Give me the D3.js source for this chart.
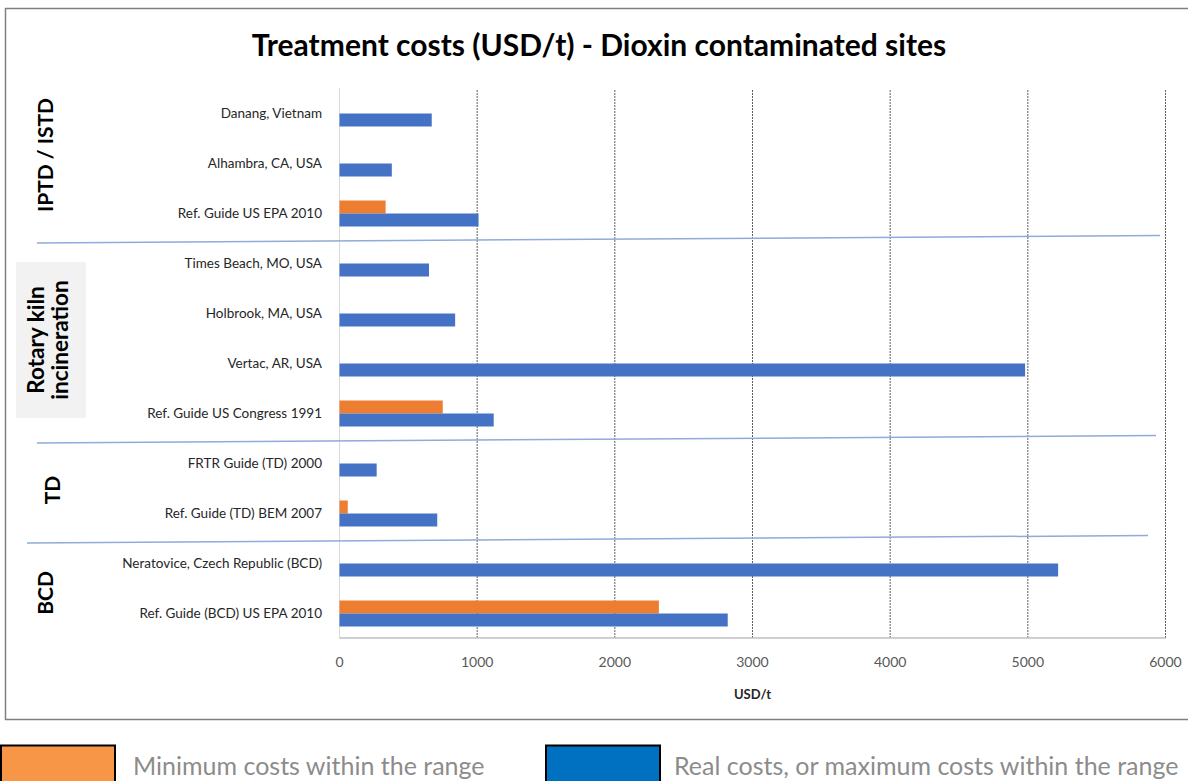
<!DOCTYPE html>
<html><head><meta charset="utf-8">
<script src="https://cdn.jsdelivr.net/npm/d3@7"></script>
<style>
html,body{margin:0;padding:0;background:#fff;}
svg{display:block;}
</style></head>
<body>
<svg id="chart" width="1188" height="781"></svg>
<script>
const categories = [
  "Danang, Vietnam",
  "Alhambra, CA, USA",
  "Ref. Guide US EPA 2010",
  "Times Beach, MO, USA",
  "Holbrook, MA, USA",
  "Vertac, AR, USA",
  "Ref. Guide US Congress 1991",
  "FRTR Guide (TD) 2000",
  "Ref. Guide (TD) BEM 2007",
  "Neratovice, Czech Republic (BCD)",
  "Ref. Guide (BCD) US EPA 2010"
];
const minCosts = [0, 0, 335, 0, 0, 0, 750, 0, 60, 0, 2320];
const maxCosts = [670, 380, 1010, 650, 840, 4980, 1120, 270, 710, 5220, 2820];
const xTicks = [0, 1000, 2000, 3000, 4000, 5000, 6000];
const groupNames = [["IPTD / ISTD"], ["Rotary kiln", "incineration"], ["TD"], ["BCD"]];
const groupStart = [0, 3, 7, 9];
const groupEnd = [2, 6, 8, 10];
const seriesNames = ["min", "max"];
const legendLabels = ["Minimum costs within the range", "Real costs, or maximum costs within the range"];
const title = "Treatment costs (USD/t) - Dioxin contaminated sites";
const xTitle = "USD/t";

(function () {
const svg = d3.select("#chart");
const FONT = "Lato, 'Open Sans', sans-serif";
const pLeft = 339.5, pRight = 1165.5, pTop = 88, pBottom = 638;

// frame
svg.append("rect").attr("x", 5.5).attr("y", 8.5).attr("width", 1190).attr("height", 711)
  .attr("fill", "#fff").attr("stroke", "#7f7f7f").attr("stroke-width", 1.5);

const x = d3.scaleLinear().domain([0, 6000]).range([pLeft, pRight]);
const y = d3.scaleBand().domain(categories).range([pTop, pBottom]).padding(0);
const ys = d3.scaleBand().domain(seriesNames).range([12.5, 38.5]).padding(0);

// rotary kiln label background
const rkTop = y(categories[groupStart[1]]), rkBot = y(categories[groupEnd[1]]) + y.bandwidth();
svg.append("rect").attr("x", 16).attr("y", rkTop + 24).attr("width", 70).attr("height", rkBot - rkTop - 44)
  .attr("fill", "#f2f2f2");

// gridlines
svg.append("g").selectAll("line").data(xTicks.filter(d => d > 0)).join("line")
  .attr("x1", d => x(d)).attr("x2", d => x(d))
  .attr("y1", pTop + 2).attr("y2", pBottom)
  .attr("stroke", "#5e5e5e").attr("stroke-width", 1).attr("stroke-dasharray", "2,1");

// axis lines
svg.append("line").attr("x1", pLeft).attr("x2", pLeft).attr("y1", pTop).attr("y2", pBottom)
  .attr("stroke", "#d9d9d9").attr("stroke-width", 1);
svg.append("line").attr("x1", pLeft).attr("x2", pRight).attr("y1", pBottom).attr("y2", pBottom)
  .attr("stroke", "#bfbfbf").attr("stroke-width", 1.5);

// bars
const rows = categories.map((c, i) => ({c, min: minCosts[i], max: maxCosts[i]}));
const barG = svg.append("g");
barG.selectAll("rect.min").data(rows.filter(r => r.min > 0)).join("rect").attr("class", "min")
  .attr("x", x(0)).attr("y", d => y(d.c) + ys("min"))
  .attr("width", d => x(d.min) - x(0)).attr("height", ys.bandwidth())
  .attr("fill", "#ed7d31");
barG.selectAll("rect.max").data(rows).join("rect").attr("class", "max")
  .attr("x", x(0)).attr("y", d => y(d.c) + ys("max"))
  .attr("width", d => x(d.max) - x(0)).attr("height", ys.bandwidth())
  .attr("fill", "#4472c4");

// category labels
svg.append("g").selectAll("text").data(categories).join("text")
  .attr("x", 322).attr("y", d => y(d) + y.bandwidth() / 2 + 2)
  .attr("text-anchor", "end").attr("dominant-baseline", "middle")
  .attr("font-family", FONT).attr("font-size", 13.5).attr("fill", "#262626")
  .text(d => d);

// separators (slanted)
const sepLeft = [37, 37, 27];
const sepRight = [1160, 1156, 1148];
for (let k = 0; k < 3; k++) {
  const yb = y(categories[groupEnd[k]]) + y.bandwidth();
  svg.append("line").attr("x1", sepLeft[k]).attr("x2", sepRight[k])
    .attr("y1", yb + 5).attr("y2", yb - 2.5)
    .attr("stroke", "#8faadc").attr("stroke-width", 1.5);
}

// group labels
groupNames.forEach((lines, k) => {
  const yc = (y(categories[groupStart[k]]) + y(categories[groupEnd[k]]) + y.bandwidth()) / 2;
  const n = lines.length;
  const xc = n === 1 ? (k === 2 ? 55 : 48) : 50;
  const yAdj = k === 0 ? -8 : (k === 3 ? 5 : 2);
  lines.forEach((t, j) => {
    const xx = xc + (j - (n - 1) / 2) * 24;
    svg.append("text")
      .attr("transform", `translate(${xx},${yc + yAdj}) rotate(-90)`)
      .attr("text-anchor", "middle").attr("dominant-baseline", "middle")
      .attr("font-family", FONT).attr("font-weight", "bold").attr("font-size", n > 1 ? 22.5 : 21)
      .attr("fill", "#000").text(t);
  });
});

// x axis tick labels
svg.append("g").selectAll("text").data(xTicks).join("text")
  .attr("x", d => x(d)).attr("y", 667)
  .attr("text-anchor", "middle")
  .attr("font-family", FONT).attr("font-size", 14).attr("fill", "#595959")
  .text(d => d);

svg.append("text").attr("x", (pLeft + pRight) / 2).attr("y", 699)
  .attr("text-anchor", "middle").attr("font-family", FONT).attr("font-weight", "bold")
  .attr("font-size", 13).attr("fill", "#262626").text(xTitle);

// title
svg.append("text").attr("x", 599).attr("y", 56)
  .attr("text-anchor", "middle").attr("font-family", FONT).attr("font-weight", "bold")
  .attr("font-size", 30).attr("fill", "#000").text(title);

// legend
const legX = [1, 546], legTextX = [133, 674], legCol = ["#f79646", "#0070c0"];
legendLabels.forEach((t, i) => {
  svg.append("rect").attr("x", legX[i]).attr("y", 745.5).attr("width", 114).attr("height", 40)
    .attr("fill", legCol[i]).attr("stroke", "#000").attr("stroke-width", 2);
  svg.append("text").attr("x", legTextX[i]).attr("y", 775)
    .attr("font-family", FONT).attr("font-size", 25).attr("fill", "#8c8c8c").text(t);
});
})();
</script>
</body></html>
